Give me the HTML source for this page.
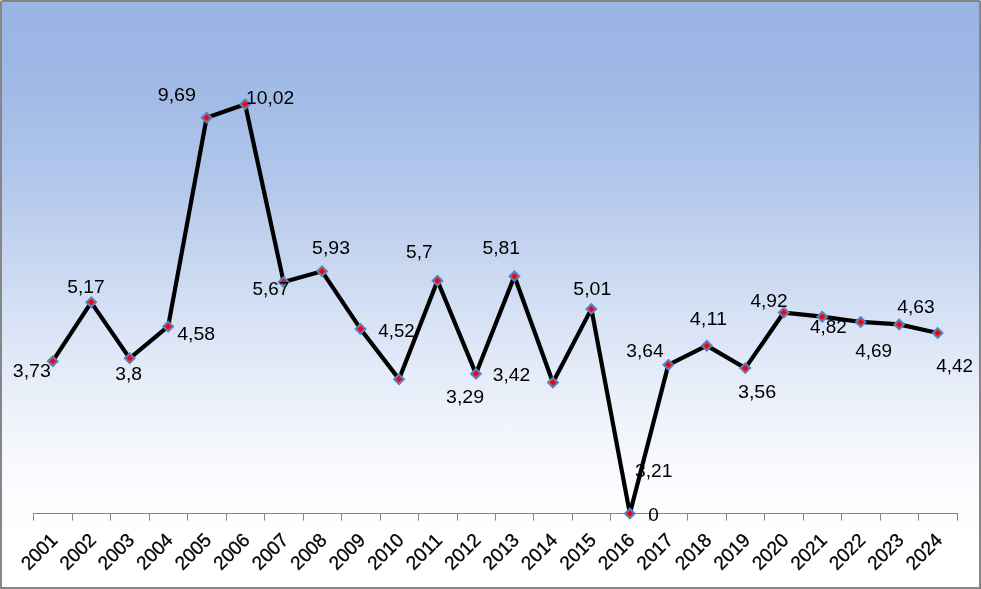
<!DOCTYPE html>
<html><head><meta charset="utf-8"><title>Chart</title>
<style>html,body{margin:0;padding:0;background:#fff}svg{display:block;will-change:transform}text{font-family:"Liberation Sans",sans-serif;fill:#000}</style></head>
<body>
<svg width="981" height="589" viewBox="0 0 981 589">
<defs><linearGradient id="bg" x1="0" y1="0" x2="0" y2="1"><stop offset="0.0000" stop-color="#9ab5e4"/><stop offset="0.0250" stop-color="#9ab5e4"/><stop offset="0.0500" stop-color="#9bb6e4"/><stop offset="0.0750" stop-color="#9cb6e5"/><stop offset="0.1000" stop-color="#9db7e5"/><stop offset="0.1250" stop-color="#9fb9e5"/><stop offset="0.1500" stop-color="#a1bae6"/><stop offset="0.1750" stop-color="#a3bce6"/><stop offset="0.2000" stop-color="#a6bee7"/><stop offset="0.2250" stop-color="#a9c0e8"/><stop offset="0.2500" stop-color="#abc2e9"/><stop offset="0.2750" stop-color="#afc4ea"/><stop offset="0.3000" stop-color="#b2c7ea"/><stop offset="0.3250" stop-color="#b6c9eb"/><stop offset="0.3500" stop-color="#b9ccec"/><stop offset="0.3750" stop-color="#bdcfed"/><stop offset="0.4000" stop-color="#c1d1ee"/><stop offset="0.4250" stop-color="#c5d4ef"/><stop offset="0.4500" stop-color="#c9d7f0"/><stop offset="0.4750" stop-color="#ccdaf1"/><stop offset="0.5000" stop-color="#d0ddf3"/><stop offset="0.5250" stop-color="#d4e0f4"/><stop offset="0.5500" stop-color="#d8e3f5"/><stop offset="0.5750" stop-color="#dce5f6"/><stop offset="0.6000" stop-color="#e0e8f7"/><stop offset="0.6250" stop-color="#e3ebf8"/><stop offset="0.6500" stop-color="#e7edf9"/><stop offset="0.6750" stop-color="#eaf0f9"/><stop offset="0.7000" stop-color="#edf2fa"/><stop offset="0.7250" stop-color="#f0f4fb"/><stop offset="0.7500" stop-color="#f3f6fc"/><stop offset="0.7750" stop-color="#f6f8fd"/><stop offset="0.8000" stop-color="#f8fafd"/><stop offset="0.8250" stop-color="#fafbfe"/><stop offset="0.8500" stop-color="#fcfdfe"/><stop offset="0.8750" stop-color="#fdfefe"/><stop offset="0.9000" stop-color="#fefeff"/><stop offset="0.9250" stop-color="#ffffff"/><stop offset="0.9500" stop-color="#ffffff"/><stop offset="0.9750" stop-color="#ffffff"/><stop offset="1.0000" stop-color="#ffffff"/></linearGradient></defs>
<rect width="981" height="589" fill="#868688"/>
<rect x="0" y="0" width="1.6" height="1.3" fill="#ecd0b6"/><rect x="979.8" y="0" width="1.2" height="1" fill="#d4d4cc"/>
<rect x="2" y="2" width="977" height="585" fill="url(#bg)"/>
<path d="M33 513.50H958M33.50 513.00v7.6M72.50 513.00v7.6M110.50 513.00v7.6M149.50 513.00v7.6M187.50 513.00v7.6M226.50 513.00v7.6M264.50 513.00v7.6M303.50 513.00v7.6M341.50 513.00v7.6M380.50 513.00v7.6M418.50 513.00v7.6M457.50 513.00v7.6M495.50 513.00v7.6M533.50 513.00v7.6M572.50 513.00v7.6M610.50 513.00v7.6M649.50 513.00v7.6M687.50 513.00v7.6M726.50 513.00v7.6M764.50 513.00v7.6M803.50 513.00v7.6M841.50 513.00v7.6M880.50 513.00v7.6M918.50 513.00v7.6M957.50 513.00v7.6" stroke="#858585" stroke-width="1" fill="none"/>
<polyline points="52.74,361.18 91.21,302.36 129.69,358.32 168.16,326.46 206.64,117.71 245.11,104.23 283.59,281.93 322.06,271.31 360.54,328.91 399.01,379.15 437.49,280.70 475.96,373.84 514.44,276.21 552.91,382.42 591.39,308.89 629.86,513.55 668.34,364.86 706.81,345.66 745.29,368.12 783.76,312.57 822.24,316.65 860.71,321.96 899.19,324.41 937.66,332.99" fill="none" stroke="#000" stroke-width="4.2" stroke-linejoin="round" stroke-linecap="round"/>
<path d="M52.74 356.43L57.49 361.18L52.74 365.93L47.99 361.18Z" fill="#f00" stroke="#5881c0" stroke-width="2.1"/>
<path d="M91.21 297.61L95.96 302.36L91.21 307.11L86.46 302.36Z" fill="#f00" stroke="#5881c0" stroke-width="2.1"/>
<path d="M129.69 353.57L134.44 358.32L129.69 363.07L124.94 358.32Z" fill="#f00" stroke="#5881c0" stroke-width="2.1"/>
<path d="M168.16 321.71L172.91 326.46L168.16 331.21L163.41 326.46Z" fill="#f00" stroke="#5881c0" stroke-width="2.1"/>
<path d="M206.64 112.96L211.39 117.71L206.64 122.46L201.89 117.71Z" fill="#f00" stroke="#5881c0" stroke-width="2.1"/>
<path d="M245.11 99.48L249.86 104.23L245.11 108.98L240.36 104.23Z" fill="#f00" stroke="#5881c0" stroke-width="2.1"/>
<path d="M283.59 277.18L288.34 281.93L283.59 286.68L278.84 281.93Z" fill="#f00" stroke="#5881c0" stroke-width="2.1"/>
<path d="M322.06 266.56L326.81 271.31L322.06 276.06L317.31 271.31Z" fill="#f00" stroke="#5881c0" stroke-width="2.1"/>
<path d="M360.54 324.16L365.29 328.91L360.54 333.66L355.79 328.91Z" fill="#f00" stroke="#5881c0" stroke-width="2.1"/>
<path d="M399.01 374.40L403.76 379.15L399.01 383.90L394.26 379.15Z" fill="#f00" stroke="#5881c0" stroke-width="2.1"/>
<path d="M437.49 275.95L442.24 280.70L437.49 285.45L432.74 280.70Z" fill="#f00" stroke="#5881c0" stroke-width="2.1"/>
<path d="M475.96 369.09L480.71 373.84L475.96 378.59L471.21 373.84Z" fill="#f00" stroke="#5881c0" stroke-width="2.1"/>
<path d="M514.44 271.46L519.19 276.21L514.44 280.96L509.69 276.21Z" fill="#f00" stroke="#5881c0" stroke-width="2.1"/>
<path d="M552.91 377.67L557.66 382.42L552.91 387.17L548.16 382.42Z" fill="#f00" stroke="#5881c0" stroke-width="2.1"/>
<path d="M591.39 304.14L596.14 308.89L591.39 313.64L586.64 308.89Z" fill="#f00" stroke="#5881c0" stroke-width="2.1"/>
<path d="M629.86 508.80L634.61 513.55L629.86 518.30L625.11 513.55Z" fill="#f00" stroke="#5881c0" stroke-width="2.1"/>
<path d="M668.34 360.11L673.09 364.86L668.34 369.61L663.59 364.86Z" fill="#f00" stroke="#5881c0" stroke-width="2.1"/>
<path d="M706.81 340.91L711.56 345.66L706.81 350.41L702.06 345.66Z" fill="#f00" stroke="#5881c0" stroke-width="2.1"/>
<path d="M745.29 363.37L750.04 368.12L745.29 372.87L740.54 368.12Z" fill="#f00" stroke="#5881c0" stroke-width="2.1"/>
<path d="M783.76 307.82L788.51 312.57L783.76 317.32L779.01 312.57Z" fill="#f00" stroke="#5881c0" stroke-width="2.1"/>
<path d="M822.24 311.90L826.99 316.65L822.24 321.40L817.49 316.65Z" fill="#f00" stroke="#5881c0" stroke-width="2.1"/>
<path d="M860.71 317.21L865.46 321.96L860.71 326.71L855.96 321.96Z" fill="#f00" stroke="#5881c0" stroke-width="2.1"/>
<path d="M899.19 319.66L903.94 324.41L899.19 329.16L894.44 324.41Z" fill="#f00" stroke="#5881c0" stroke-width="2.1"/>
<path d="M937.66 328.24L942.41 332.99L937.66 337.74L932.91 332.99Z" fill="#f00" stroke="#5881c0" stroke-width="2.1"/>
<g font-size="18.8px">
<text x="12.82" y="377.10" textLength="37.96" lengthAdjust="spacingAndGlyphs">3,73</text>
<text x="67.23" y="293.25" textLength="37.34" lengthAdjust="spacingAndGlyphs">5,17</text>
<text x="115.23" y="380.40" textLength="26.80" lengthAdjust="spacingAndGlyphs">3,8</text>
<text x="177.25" y="339.90" textLength="37.89" lengthAdjust="spacingAndGlyphs">4,58</text>
<text x="157.71" y="100.60" textLength="38.27" lengthAdjust="spacingAndGlyphs">9,69</text>
<text x="246.04" y="104.00" textLength="48.23" lengthAdjust="spacingAndGlyphs">10,02</text>
<text x="252.54" y="294.60" textLength="36.82" lengthAdjust="spacingAndGlyphs">5,67</text>
<text x="312.12" y="254.00" textLength="37.86" lengthAdjust="spacingAndGlyphs">5,93</text>
<text x="378.36" y="336.80" textLength="36.29" lengthAdjust="spacingAndGlyphs">4,52</text>
<text x="446.02" y="403.30" textLength="38.06" lengthAdjust="spacingAndGlyphs">3,29</text>
<text x="406.03" y="257.80" textLength="26.53" lengthAdjust="spacingAndGlyphs">5,7</text>
<text x="492.83" y="381.20" textLength="37.44" lengthAdjust="spacingAndGlyphs">3,42</text>
<text x="482.42" y="254.00" textLength="37.63" lengthAdjust="spacingAndGlyphs">5,81</text>
<text x="634.93" y="476.90" textLength="37.52" lengthAdjust="spacingAndGlyphs">3,21</text>
<text x="573.32" y="294.80" textLength="37.94" lengthAdjust="spacingAndGlyphs">5,01</text>
<text x="648.29" y="521.20" textLength="10.53" lengthAdjust="spacingAndGlyphs">0</text>
<text x="626.23" y="357.00" textLength="37.35" lengthAdjust="spacingAndGlyphs">3,64</text>
<text x="689.75" y="324.90" textLength="37.39" lengthAdjust="spacingAndGlyphs">4,11</text>
<text x="737.91" y="397.50" textLength="38.42" lengthAdjust="spacingAndGlyphs">3,56</text>
<text x="750.45" y="307.10" textLength="37.11" lengthAdjust="spacingAndGlyphs">4,92</text>
<text x="810.05" y="333.00" textLength="36.80" lengthAdjust="spacingAndGlyphs">4,82</text>
<text x="855.25" y="357.20" textLength="36.80" lengthAdjust="spacingAndGlyphs">4,69</text>
<text x="897.35" y="313.00" textLength="37.42" lengthAdjust="spacingAndGlyphs">4,63</text>
<text x="936.35" y="371.70" textLength="36.80" lengthAdjust="spacingAndGlyphs">4,42</text>
</g>
<g font-size="19.3px" stroke="#000" stroke-width="0.3">
<text transform="translate(58.60 541.30) rotate(-45)" x="0" y="0" text-anchor="end" textLength="42" lengthAdjust="spacingAndGlyphs">2001</text>
<text transform="translate(97.08 541.30) rotate(-45)" x="0" y="0" text-anchor="end" textLength="42" lengthAdjust="spacingAndGlyphs">2002</text>
<text transform="translate(135.55 541.30) rotate(-45)" x="0" y="0" text-anchor="end" textLength="42" lengthAdjust="spacingAndGlyphs">2003</text>
<text transform="translate(174.03 541.30) rotate(-45)" x="0" y="0" text-anchor="end" textLength="42" lengthAdjust="spacingAndGlyphs">2004</text>
<text transform="translate(212.50 541.30) rotate(-45)" x="0" y="0" text-anchor="end" textLength="42" lengthAdjust="spacingAndGlyphs">2005</text>
<text transform="translate(250.97 541.30) rotate(-45)" x="0" y="0" text-anchor="end" textLength="42" lengthAdjust="spacingAndGlyphs">2006</text>
<text transform="translate(289.45 541.30) rotate(-45)" x="0" y="0" text-anchor="end" textLength="42" lengthAdjust="spacingAndGlyphs">2007</text>
<text transform="translate(327.93 541.30) rotate(-45)" x="0" y="0" text-anchor="end" textLength="42" lengthAdjust="spacingAndGlyphs">2008</text>
<text transform="translate(366.40 541.30) rotate(-45)" x="0" y="0" text-anchor="end" textLength="42" lengthAdjust="spacingAndGlyphs">2009</text>
<text transform="translate(404.88 541.30) rotate(-45)" x="0" y="0" text-anchor="end" textLength="42" lengthAdjust="spacingAndGlyphs">2010</text>
<text transform="translate(443.35 541.30) rotate(-45)" x="0" y="0" text-anchor="end" textLength="42" lengthAdjust="spacingAndGlyphs">2011</text>
<text transform="translate(481.83 541.30) rotate(-45)" x="0" y="0" text-anchor="end" textLength="42" lengthAdjust="spacingAndGlyphs">2012</text>
<text transform="translate(520.30 541.30) rotate(-45)" x="0" y="0" text-anchor="end" textLength="42" lengthAdjust="spacingAndGlyphs">2013</text>
<text transform="translate(558.77 541.30) rotate(-45)" x="0" y="0" text-anchor="end" textLength="42" lengthAdjust="spacingAndGlyphs">2014</text>
<text transform="translate(597.25 541.30) rotate(-45)" x="0" y="0" text-anchor="end" textLength="42" lengthAdjust="spacingAndGlyphs">2015</text>
<text transform="translate(635.73 541.30) rotate(-45)" x="0" y="0" text-anchor="end" textLength="42" lengthAdjust="spacingAndGlyphs">2016</text>
<text transform="translate(674.20 541.30) rotate(-45)" x="0" y="0" text-anchor="end" textLength="42" lengthAdjust="spacingAndGlyphs">2017</text>
<text transform="translate(712.68 541.30) rotate(-45)" x="0" y="0" text-anchor="end" textLength="42" lengthAdjust="spacingAndGlyphs">2018</text>
<text transform="translate(751.15 541.30) rotate(-45)" x="0" y="0" text-anchor="end" textLength="42" lengthAdjust="spacingAndGlyphs">2019</text>
<text transform="translate(789.62 541.30) rotate(-45)" x="0" y="0" text-anchor="end" textLength="42" lengthAdjust="spacingAndGlyphs">2020</text>
<text transform="translate(828.10 541.30) rotate(-45)" x="0" y="0" text-anchor="end" textLength="42" lengthAdjust="spacingAndGlyphs">2021</text>
<text transform="translate(866.58 541.30) rotate(-45)" x="0" y="0" text-anchor="end" textLength="42" lengthAdjust="spacingAndGlyphs">2022</text>
<text transform="translate(905.05 541.30) rotate(-45)" x="0" y="0" text-anchor="end" textLength="42" lengthAdjust="spacingAndGlyphs">2023</text>
<text transform="translate(943.53 541.30) rotate(-45)" x="0" y="0" text-anchor="end" textLength="42" lengthAdjust="spacingAndGlyphs">2024</text>
</g>
</svg>
</body></html>
